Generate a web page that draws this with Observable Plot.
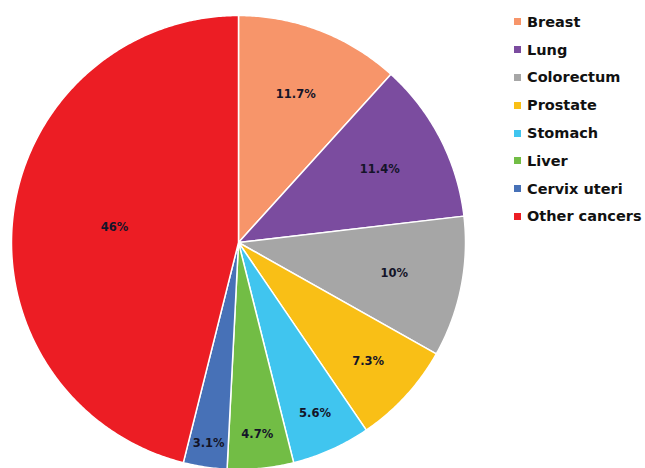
<!DOCTYPE html>
<html><head><meta charset="utf-8">
<script src="https://cdn.jsdelivr.net/npm/d3@7"></script>
<script src="https://cdn.jsdelivr.net/npm/@observablehq/plot@0.6"></script>
<style>
body{margin:0;background:#fff;}
#wrap{position:relative;width:645px;height:468px;overflow:hidden;}
#legend{position:absolute;left:514px;top:8px;font:bold 14.5px "DejaVu Sans",sans-serif;color:#111;}
.row{display:flex;align-items:center;height:27.8px;white-space:nowrap;}
.sw{width:7px;height:7px;margin-right:6px;flex:none;}
</style></head>
<body><div id="wrap"><div id="chart"></div><div id="legend"></div></div>
<script>
const categories = ["Breast", "Lung", "Colorectum", "Prostate", "Stomach", "Liver", "Cervix uteri", "Other cancers"];
const values = [11.7, 11.4, 10, 7.3, 5.6, 4.7, 3.1, 46];
const labels = ["11.7%", "11.4%", "10%", "7.3%", "5.6%", "4.7%", "3.1%", "46%"];
const colors = ["#F7956A", "#7B4C9F", "#A6A6A6", "#F9BF16", "#40C5EF", "#72BD45", "#4771B7", "#EC1D24"];

const total = d3.sum(values);
const arcs = [];
const texts = [];
let acc = 0;
values.forEach((v, i) => {
  const a0 = acc / total * 2 * Math.PI;
  acc += v;
  const a1 = acc / total * 2 * Math.PI;
  const pts = [{cat: categories[i], x: 0, y: 0}];
  const n = Math.max(4, Math.ceil((a1 - a0) / (Math.PI / 360)));
  for (let k = 0; k <= n; k++) {
    const a = a0 + (a1 - a0) * k / n;
    pts.push({cat: categories[i], x: Math.sin(a), y: Math.cos(a)});
  }
  pts.push({cat: categories[i], x: 0, y: 0});
  arcs.push(...pts);
  const share = v / total * 100;
  const r = share > 30 ? 0.55 : 0.7 + Math.max(0, 10 - share) * 0.028;
  const am = (a0 + a1) / 2;
  texts.push({label: labels[i], x: r * Math.sin(am), y: r * Math.cos(am)});
});

const R = 227, cx = 238, cy = 242, W = 645, H = 468;
const chart = Plot.plot({
  width: W, height: H,
  margin: 0,
  x: {domain: [-cx / R, (W - cx) / R], axis: null},
  y: {domain: [-(H - cy) / R, cy / R], axis: null},
  color: {domain: categories, range: colors},
  marks: [
    Plot.line(arcs, {x: "x", y: "y", z: "cat", fill: "cat", stroke: "white", strokeWidth: 1.5, curve: "linear"}),
    Plot.text(texts, {x: "x", y: "y", text: "label", fill: "#141428", fontSize: 11.5, fontWeight: "bold", fontFamily: "DejaVu Sans"})
  ],
  style: {background: "white"}
});
document.getElementById("chart").appendChild(chart);

const cs = chart.scale("color");
const leg = d3.select("#legend");
categories.forEach((c, i) => {
  const row = leg.append("div").attr("class", "row");
  row.append("div").attr("class", "sw").style("background", cs.range[cs.domain.indexOf(c)]);
  row.append("span").text(c);
});
</script>
</body></html>
